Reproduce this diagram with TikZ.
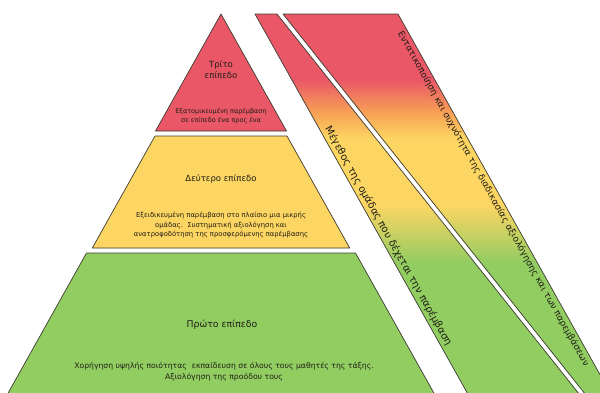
\documentclass[tikz,border=0pt]{standalone}
\usepackage{fontspec}
\setmainfont{DejaVu Sans}
\usetikzlibrary{calc}
\definecolor{cred}{RGB}{234,88,104}
\definecolor{cyel}{RGB}{253,213,99}
\definecolor{cgrn}{RGB}{146,205,98}
\definecolor{corg}{RGB}{247,160,85}
\definecolor{cline}{RGB}{60,60,50}
\definecolor{ctxt}{RGB}{30,30,20}
\newcommand\gradband{%
  \fill[cred] (240,0) rectangle (620,80.5);
  \shade[top color=cred,bottom color=corg] (240,80) rectangle (620,112.5);
  \shade[top color=corg,bottom color=cyel] (240,112) rectangle (620,138.5);
  \fill[cyel] (240,138) rectangle (620,205.5);
  \shade[top color=cyel,bottom color=cgrn] (240,205) rectangle (620,262.5);
  \fill[cgrn] (240,262) rectangle (620,400);
}
\begin{document}
\begin{tikzpicture}[x=1pt,y=-1pt,
  level/.style={draw=cline,line width=0.7pt,line join=round},
  shadowbox/.style={fill=black!45,opacity=0.45},
  title/.style={font=\fontsize{8.5}{11.5}\selectfont,text=ctxt,align=center},
  body/.style={font=\fontsize{6.8}{9.5}\selectfont,text=ctxt,align=center},
  slantA/.style={font=\fontsize{10}{12}\selectfont,text=ctxt,rotate=-60.75,inner sep=2.5pt},
  slantB/.style={font=\fontsize{9}{11}\selectfont,text=ctxt,rotate=-60.75,inner sep=2.5pt}]
\useasboundingbox (0,0) rectangle (600,392);
\clip (0,0) rectangle (600,392);
% pyramid corners
\coordinate (apex) at (221,14);
\coordinate (rL) at (155.5,131);
\coordinate (rR) at (286.5,131);
\coordinate (yTL) at (155,136);
\coordinate (yTR) at (287,136);
\coordinate (yBL) at (92.3,248);
\coordinate (yBR) at (349.7,248);
\coordinate (gTL) at (86.5,253);
\coordinate (gTR) at (355.5,253);
\coordinate (gBL) at (4.2,400);
\coordinate (gBR) at (437.8,400);
% stripes
\coordinate (s1tl) at (255,14);
\coordinate (s1tr) at (277,14);
\coordinate (s1br) at (583.9,400);
\coordinate (s1bl) at (471.2,400);
\coordinate (s2tl) at (283,14);
\coordinate (s2tr) at (398,14);
\coordinate (s2br) at (614.2,400);
\coordinate (s2bl) at (589.9,400);
% shadows
\begin{scope}[shift={(1.5,2)}]
\fill[shadowbox] (apex)--(rR)--(rL)--cycle;
\fill[shadowbox] (yTL)--(yTR)--(yBR)--(yBL)--cycle;
\fill[shadowbox] (gTL)--(gTR)--(gBR)--(gBL)--cycle;
\fill[shadowbox] (s1tl)--(s1tr)--(s1br)--(s1bl)--cycle;
\fill[shadowbox] (s2tl)--(s2tr)--(s2br)--(s2bl)--cycle;
\end{scope}
% pyramid
\filldraw[level,fill=cred] (apex)--(rR)--(rL)--cycle;
\filldraw[level,fill=cyel] (yTL)--(yTR)--(yBR)--(yBL)--cycle;
\filldraw[level,fill=cgrn] (gTL)--(gTR)--(gBR)--(gBL)--cycle;
% stripe 1
\begin{scope}
\clip (s1tl)--(s1tr)--(s1br)--(s1bl)--cycle;
\gradband
\end{scope}
\draw[level] (s1tl)--(s1tr)--(s1br)--(s1bl)--cycle;
% stripe 2
\begin{scope}
\clip (s2tl)--(s2tr)--(s2br)--(s2bl)--cycle;
\gradband
\end{scope}
\draw[level] (s2tl)--(s2tr)--(s2br)--(s2bl)--cycle;
% texts
\node[title] (t3) at (221,69.5) {Τρίτο\\επίπεδο};
\node[body,font=\fontsize{6.5}{9}\selectfont] (b3) at (221,116.5) {Εξατομικευμένη παρέμβαση\\σε επίπεδο ένα προς ένα};
\node[title] (t2) at (221,179) {Δεύτερο επίπεδο};
\node[body] (b2) at (221,225) {Εξειδικευμένη παρέμβαση στο πλαίσιο μια μικρής\\ομάδας.\ \ Συστηματική αξιολόγηση και\\ανατροφοδότηση της προσφερόμενης παρέμβασης};
\node[title,font=\fontsize{9.3}{11}\selectfont] (t1) at (222,325) {Πρώτο επίπεδο};
\node[body,font=\fontsize{7.7}{11}\selectfont] (b1) at (224,371.5) {Χορήγηση υψηλής ποιότητας\ \ εκπαίδευση σε όλους τους μαθητές της τάξης.\\Αξιολόγηση της προόδου τους};
\node[slantA,anchor=south] (m1) at ($(s1tl)!0.585!(s1bl)$) {Μέγεθος της ομάδας που δέχεται την παρέμβαση};
\node[slantB,anchor=north] (m2) at ($(s2tr)!0.47!(s2br)$) {Εντατικοποίηση και συχνότητα της διαδικασίας αξιολόγησης και των παρεμβάσεων};
\end{tikzpicture}
\end{document}
